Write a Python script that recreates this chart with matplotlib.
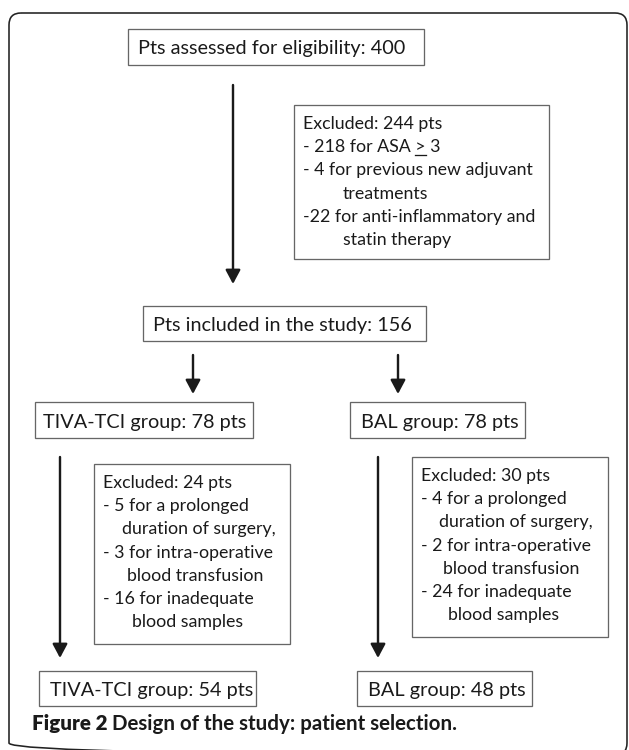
import matplotlib
matplotlib.use("Agg")
import matplotlib.pyplot as plt
from matplotlib.patches import FancyBboxPatch, Rectangle

# Flow chart content
assessed_text = "Pts assessed for eligibility: 400"
included_text = "Pts included in the study: 156"
group_text = ["TIVA-TCI group: 78 pts", "BAL group: 78 pts"]
final_text = ["TIVA-TCI group: 54 pts", "BAL group: 48 pts"]

excl_first = ["Excluded: 244 pts",
              "- 218 for ASA > 3",
              "- 4 for previous new adjuvant",
              "treatments",
              "-22 for anti-inflammatory and",
              "statin therapy"]
excl_tiva = ["Excluded: 24 pts",
             "- 5 for a prolonged",
             "duration of surgery,",
             "- 3 for intra-operative",
             "blood transfusion",
             "- 16 for inadequate",
             "blood samples"]
excl_bal = ["Excluded: 30 pts",
            "- 4 for a prolonged",
            "duration of surgery,",
            "- 2 for intra-operative",
            "blood transfusion",
            "- 24 for inadequate",
            "blood samples"]

caption_bold = "Figure 2"
caption_rest = "Design of the study: patient selection."

# layout (pixels, origin top-left)
W, H, DPI = 629, 750, 100
FONT = "Lato"
FS_BOX = 14.3     # one-line boxes
FS_EXCL = 12.8    # exclusion lists
FS_CAP = 14.8
TXT = "#1a1a1a"
EDGE = "#666666"
LINE_H = 23.2

fig = plt.figure(figsize=(W / DPI, H / DPI), dpi=DPI)
ax = fig.add_axes([0, 0, 1, 1])
ax.set_xlim(0, W)
ax.set_ylim(H, 0)
ax.axis("off")


def pt(px):
    return px * 72 / DPI


def box(x0, x1, y0, y1):
    ax.add_patch(Rectangle((x0, y0), x1 - x0, y1 - y0, fill=False,
                           edgecolor=EDGE, lw=pt(1.3)))


def label(x, y, s, fs=FS_BOX, **kw):
    return ax.text(x, y, s, fontsize=fs, family=FONT, color=TXT,
                   va="baseline", ha="left", **kw)


def arrow(x, y0, y1):
    ax.annotate("", xy=(x, y1), xytext=(x, y0),
                arrowprops=dict(arrowstyle="-|>,head_length=0.6,head_width=0.32",
                                color=TXT, lw=pt(2.4), shrinkA=0, shrinkB=0,
                                mutation_scale=14))


# outer frame
ax.add_patch(FancyBboxPatch((9, 13), 618, 742,
                            boxstyle="round,pad=0,rounding_size=12",
                            fill=False, edgecolor="#222222", lw=pt(1.6)))

# top boxes
box(128, 424, 29, 65)
label(138, 54, assessed_text)
box(143, 426, 306, 341)
label(153, 331, included_text)
arrow(233, 85, 284)

# first exclusion box
box(294, 549, 105, 259)
indent_first = [0, 0, 0, 40, 0, 40]
for i, (s, dx) in enumerate(zip(excl_first, indent_first)):
    label(303 + dx, 129 + i * LINE_H, s, fs=FS_EXCL)

# underline under ">" in "ASA > 3"
renderer = fig.canvas.get_renderer()
inv = ax.transData.inverted()
probe = label(303, 129 + LINE_H, excl_first[1].split(">")[0] + ">", fs=FS_EXCL)
probe_gt = label(303, 129 + LINE_H, ">", fs=FS_EXCL)
bb = probe.get_window_extent(renderer)
bg = probe_gt.get_window_extent(renderer)
gt_w = inv.transform((bg.x1, 0))[0] - inv.transform((bg.x0, 0))[0]
gx1 = inv.transform((bb.x1, 0))[0]
probe.remove()
probe_gt.remove()
uy = 129 + LINE_H + 3
ax.plot([gx1 - gt_w - 0.5, gx1 + 0.5], [uy, uy], color=TXT, lw=pt(1.3))

# group arrows and boxes
arrow(193, 355, 394)
arrow(398, 355, 394)
box(35, 253, 402, 438)
label(43, 428, group_text[0])
box(350, 525, 402, 438)
label(361, 428, group_text[1])

# long arrows
arrow(60, 457, 658)
arrow(378, 457, 658)

# exclusion boxes of the two groups
box(94, 290, 464, 644)
for i, (s, dx) in enumerate(zip(excl_tiva, [0, 0, 19, 0, 24, 0, 29])):
    label(103 + dx, 488 + i * LINE_H, s, fs=FS_EXCL)
box(412, 608, 457, 637)
for i, (s, dx) in enumerate(zip(excl_bal, [0, 0, 18, 0, 22, 0, 27])):
    label(421 + dx, 481 + i * LINE_H, s, fs=FS_EXCL)

# final boxes
box(39, 256, 671, 706)
label(50, 696, final_text[0])
box(357, 532, 671, 706)
label(368, 696, final_text[1])

# caption
cap = ax.text(32, 730, caption_bold, fontsize=FS_CAP, family=FONT, color=TXT,
              weight="heavy", va="baseline")
cb = cap.get_window_extent(renderer)
cx = inv.transform((cb.x1, 0))[0]
ax.text(cx + 5, 730, caption_rest, fontsize=FS_CAP, family=FONT, color=TXT,
        weight="bold", va="baseline")

fig.savefig("out.png", dpi=DPI)
